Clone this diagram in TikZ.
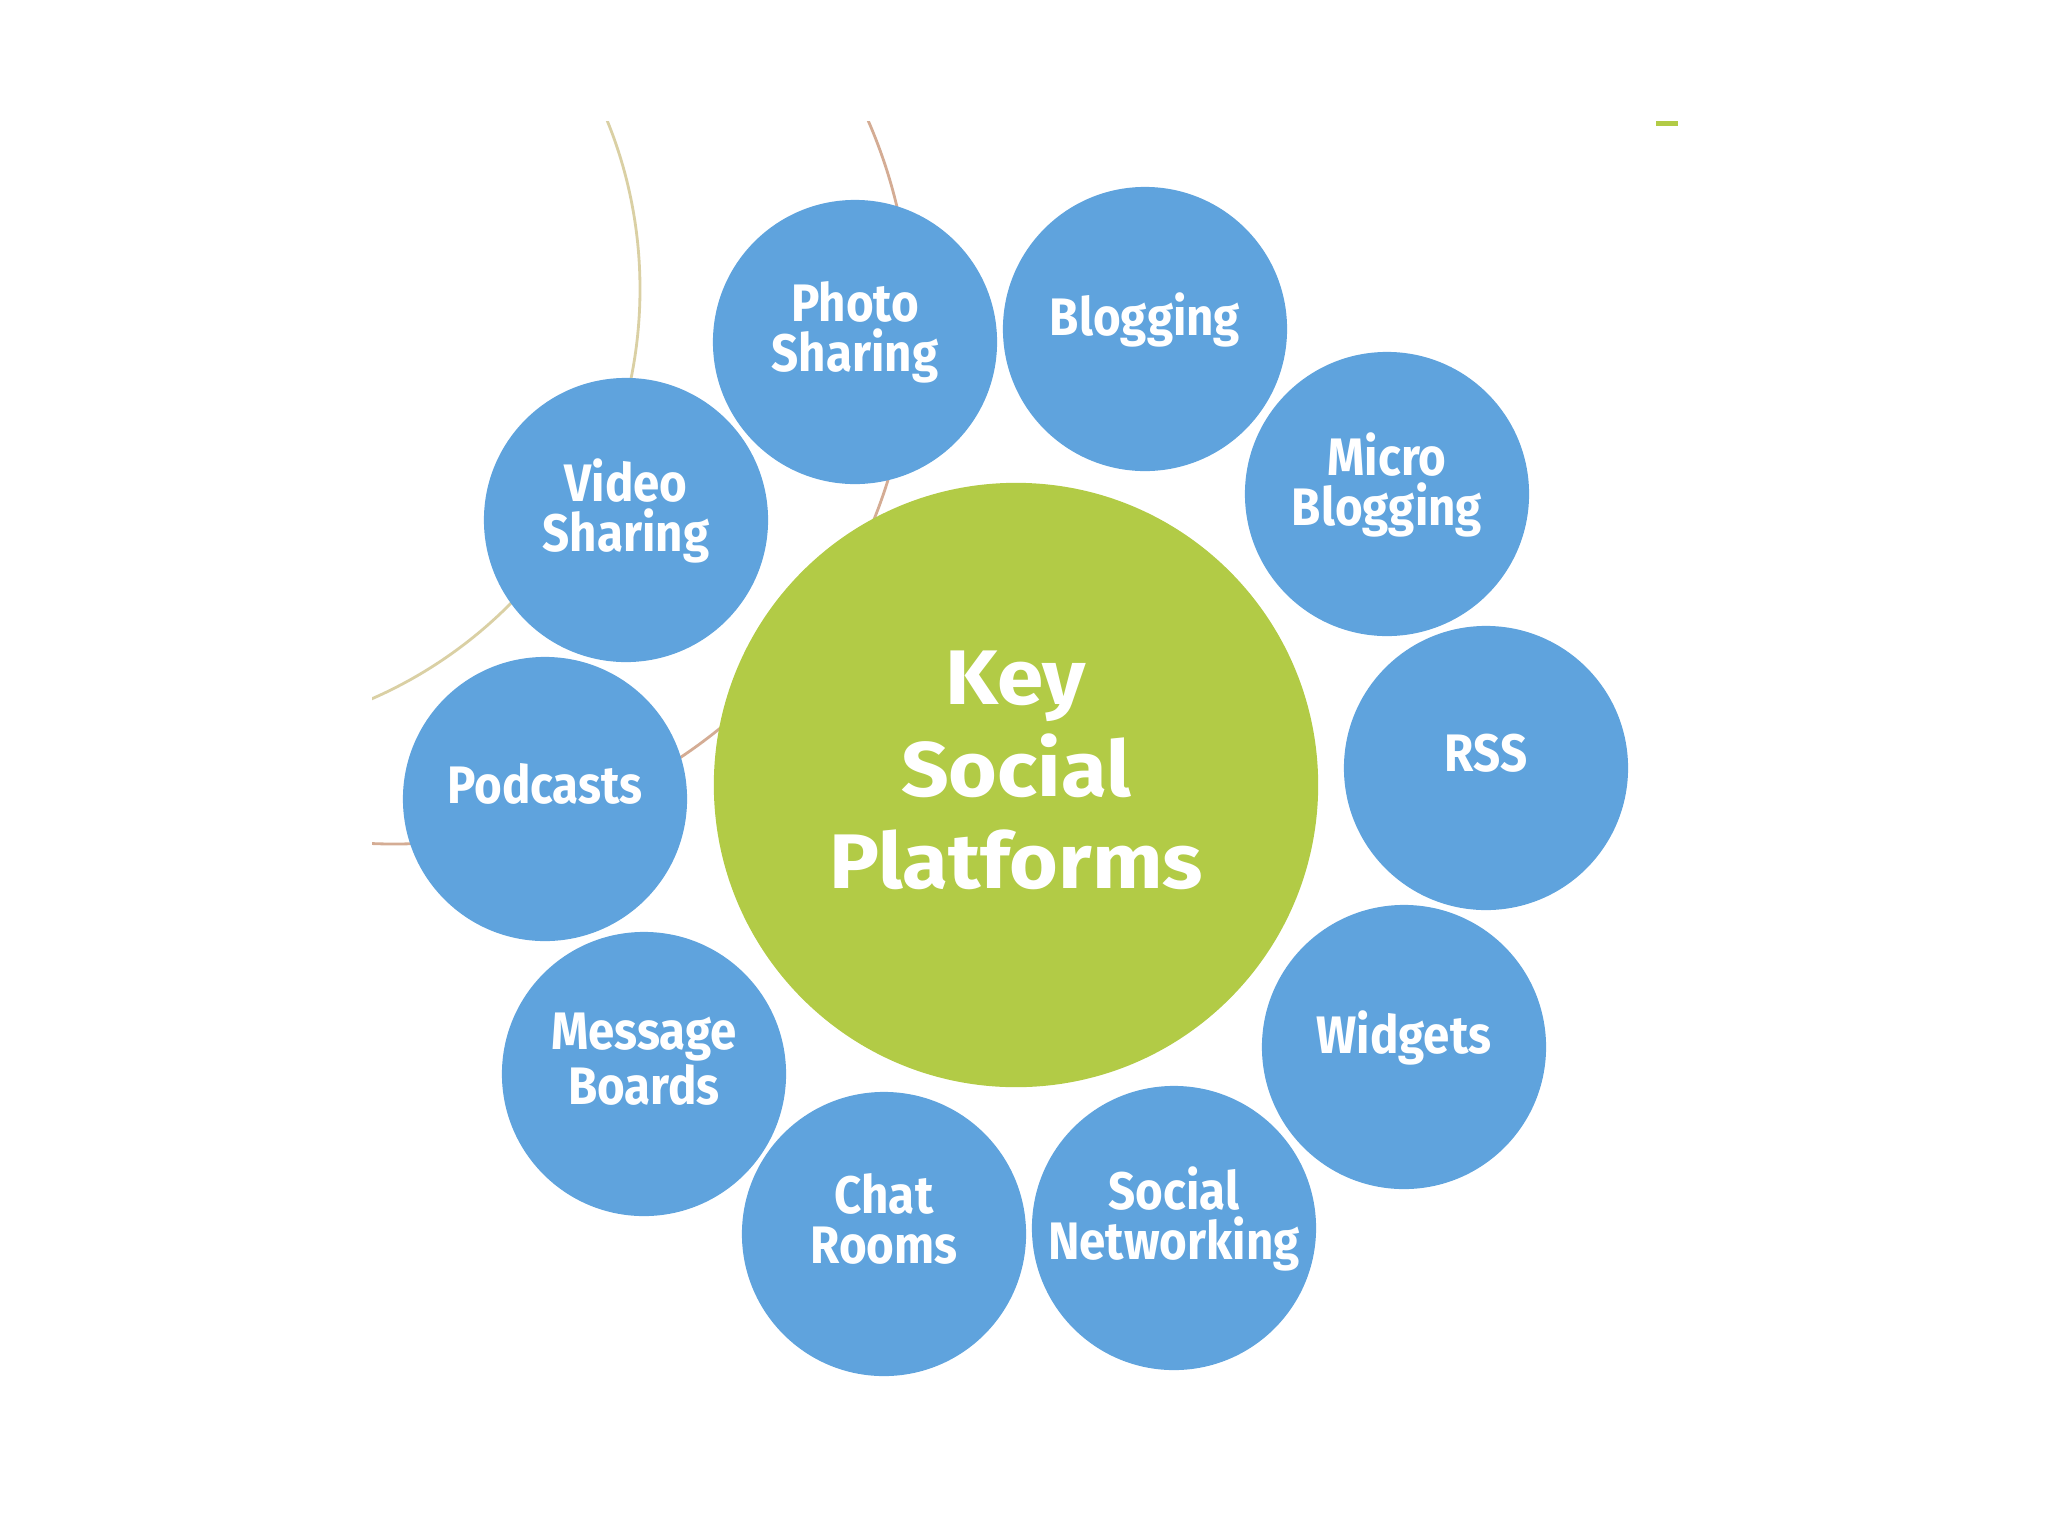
\documentclass[tikz,border=0pt]{standalone}
\usepackage{fontspec}
\setmainfont{Fira Sans}
\newfontfamily\bubblefont[FakeStretch=0.9]{Fira Sans}
\newfontfamily\hubfont[FakeStretch=1.08]{Fira Sans}

\definecolor{bubbleblue}{RGB}{95,163,221}
\definecolor{hubgreen}{RGB}{178,203,70}
\definecolor{arcbeige}{RGB}{218,208,164}
\definecolor{arcrust}{RGB}{212,172,148}

\tikzset{
	bubble/.style={circle,fill=bubbleblue,inner sep=0pt,minimum size=2.84cm,
		text=white,align=center,text depth=8.7pt,
		font=\bubblefont\bfseries\fontsize{15}{14.2}\selectfont},
	hub/.style={circle,fill=hubgreen,inner sep=0pt,minimum size=6.04cm,
		text=white,align=center,text depth=8.6pt,
		font=\hubfont\bfseries\fontsize{22}{26.2}\selectfont},
	faintarc/.style={line width=0.8pt}
}

\begin{document}
\begin{tikzpicture}[x=0.01cm, y=-0.01cm]

	\useasboundingbox (0,0) rectangle (2048,1536);

	% background arcs, cut off at the edge of the photo
	\begin{scope}
		\clip (372,121) rectangle (1678,1417);
		\draw[faintarc,arcbeige] (193,289) circle [radius=447];
		\draw[faintarc,arcrust] (394,327) circle [radius=517];
		\fill[hubgreen] (1656,121) rectangle (1678,126);
	\end{scope}

	\node[hub] (hub) at (1016,785) {Key\\Social\\Platforms};

	\node[bubble] (photo) at (855,342) {Photo\\Sharing};
	\node[bubble] (blog) at (1145,329) {Blogging};
	\node[bubble] (micro) at (1387,494) {Micro\\Blogging};
	\node[bubble] (rss) at (1486,768) {RSS};
	\node[bubble] (widgets) at (1404,1047) {Widgets};
	\node[bubble] (socnet) at (1174,1228) {Social\\Networking};
	\node[bubble] (chat) at (884,1234) {Chat\\Rooms};
	\node[bubble] (boards) at (644,1074) {Message\\Boards};
	\node[bubble] (podcasts) at (545,799) {Podcasts};
	\node[bubble] (video) at (626,520) {Video\\Sharing};

\end{tikzpicture}
\end{document}
